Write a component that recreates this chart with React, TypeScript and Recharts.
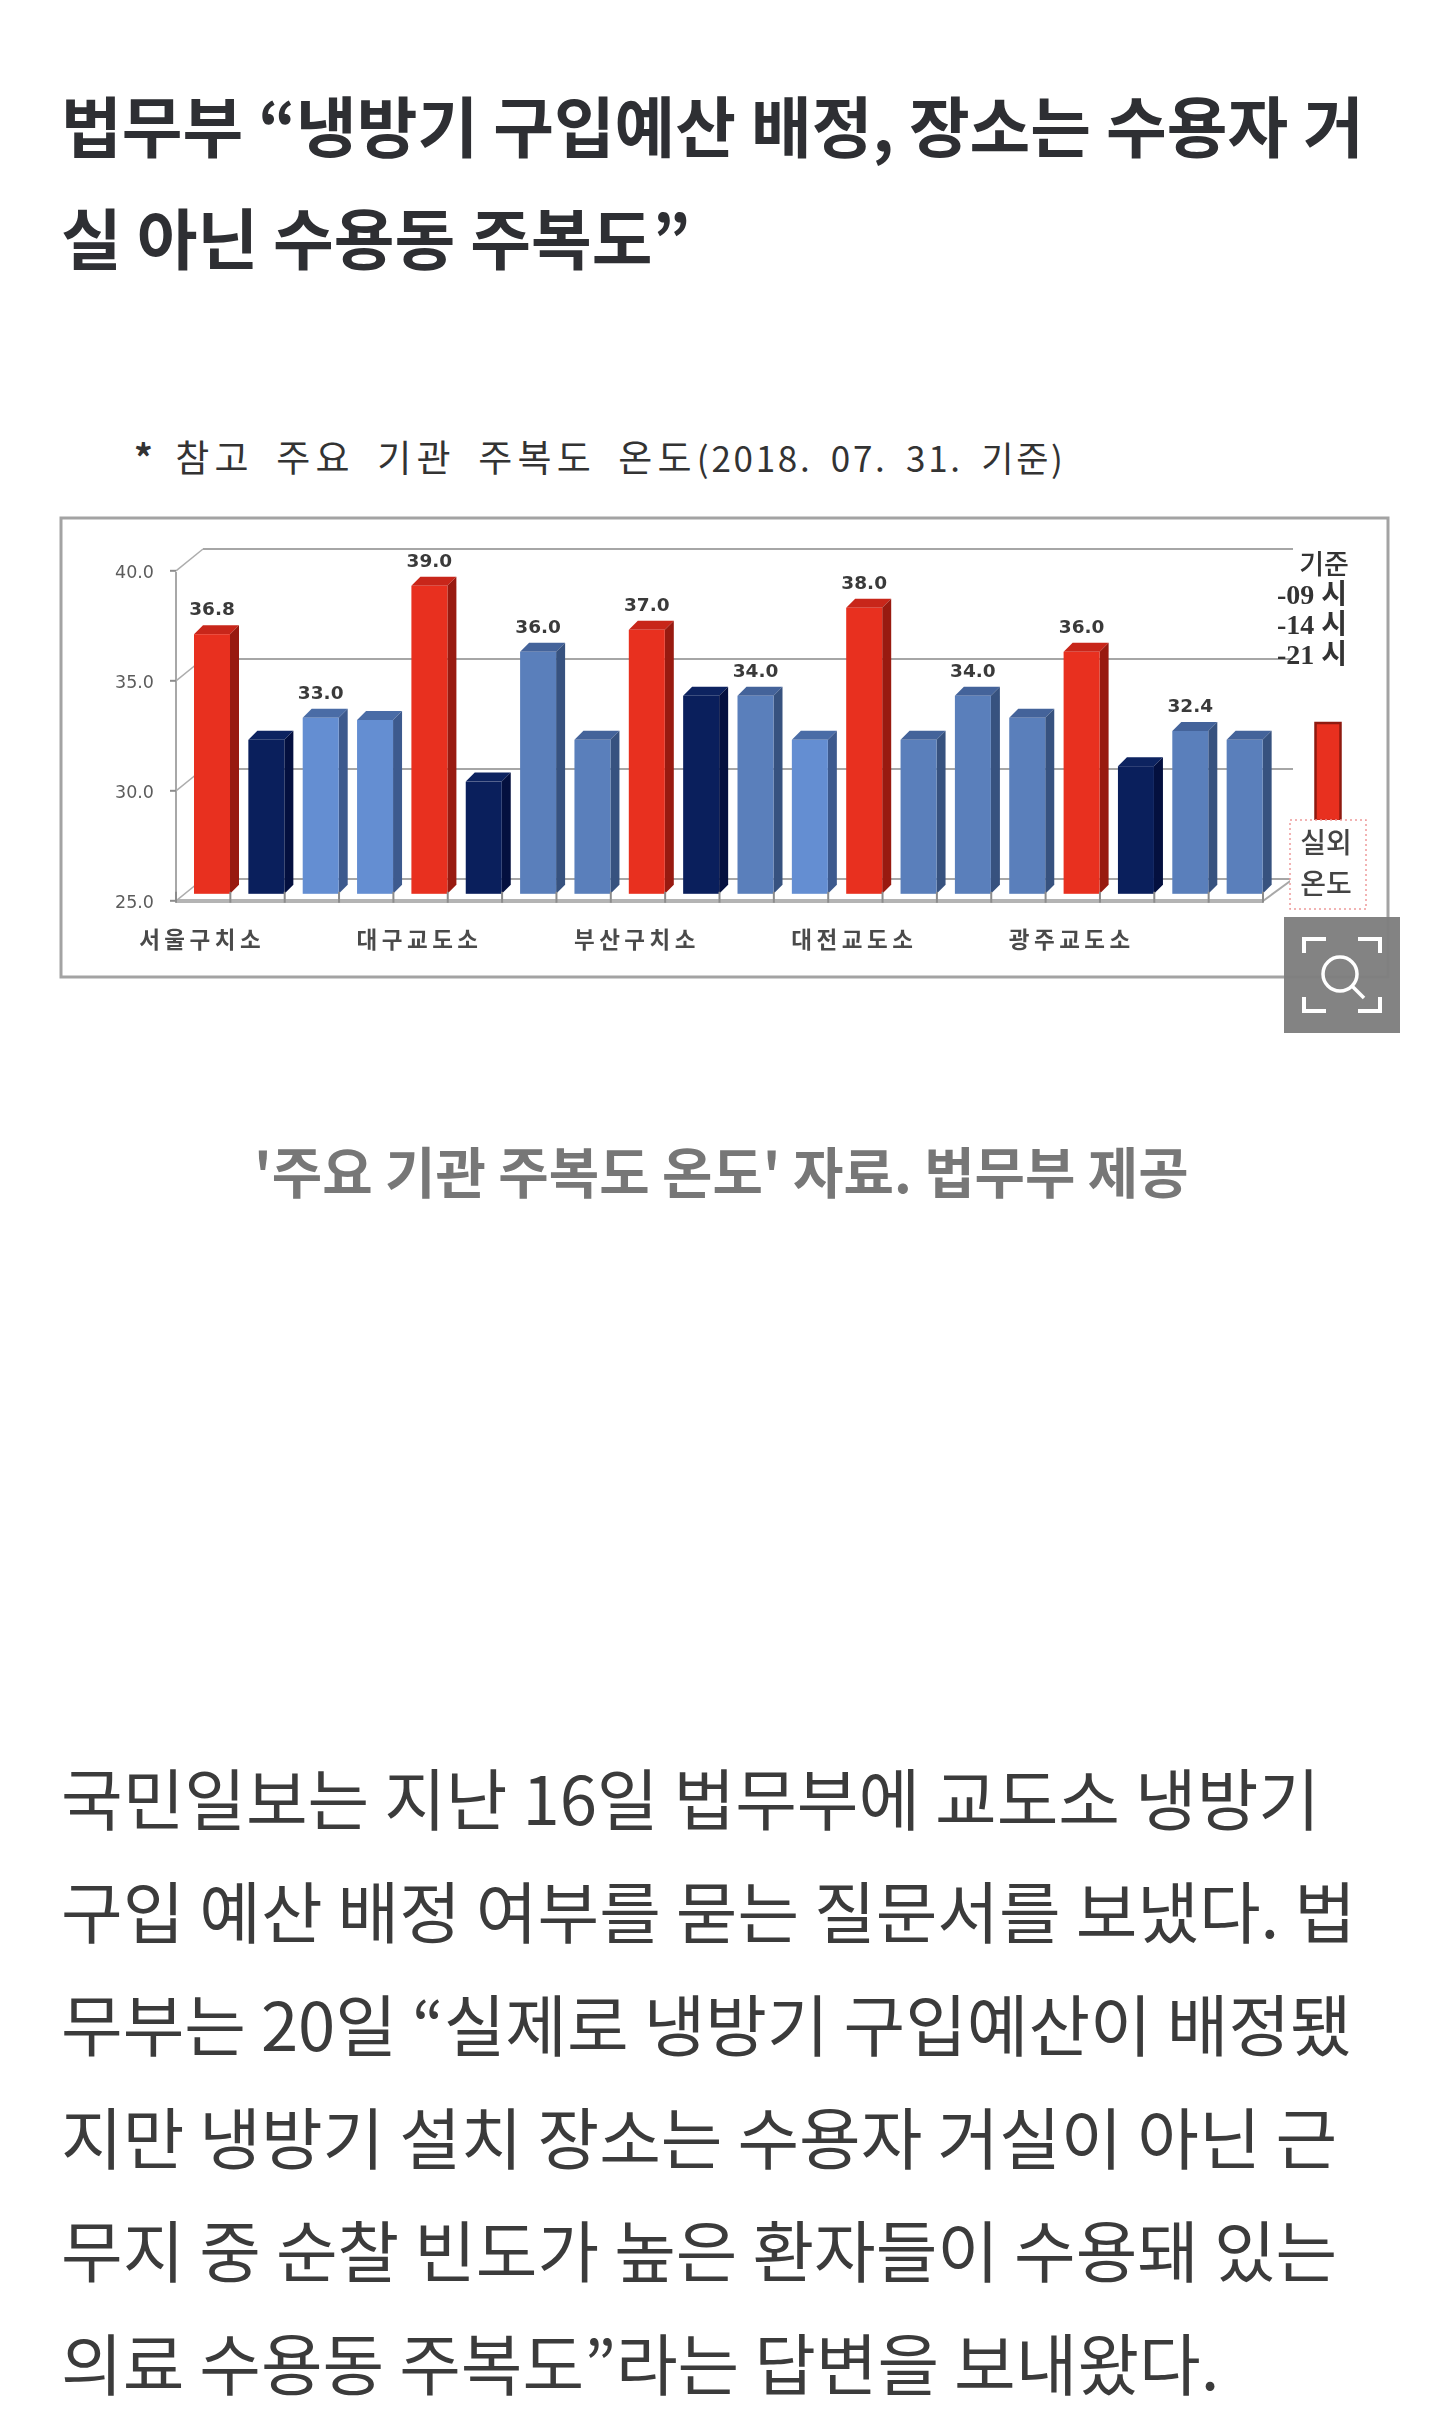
// App.tsx - 주요 기관 주복도 온도 article screenshot, bars drawn with Recharts
import React from 'react';
import { BarChart, Bar, XAxis, YAxis, CartesianGrid, LabelList } from 'recharts';

const groupNames = [
  '서울구치소', '', '', '',
  '대구교도소', '', '', '',
  '부산구치소', '', '', '',
  '대전교도소', '', '', '',
  '광주교도소', '', '', '',
];
const temps = [36.8, 32.0, 33.0, 32.9, 39.0, 30.1, 36.0, 32.0, 37.0, 34.0, 34.0, 32.0, 38.0, 32.0, 34.0, 33.0, 36.0, 30.8, 32.4, 32.0];
const shownLabels = ['36.8', '', '33.0', '', '39.0', '', '36.0', '', '37.0', '', '34.0', '', '38.0', '', '34.0', '', '36.0', '', '32.4', ''];
const tones = ['red', 'navy', 'light', 'light', 'red', 'navy', 'mid', 'mid', 'red', 'navy', 'mid', 'light', 'red', 'mid', 'mid', 'mid', 'red', 'navy', 'mid', 'mid'];
const yTicks = [25, 30, 35, 40];

const bodyLines = [
  '국민일보는 지난 16일 법무부에 교도소 냉방기',
  '구입 예산 배정 여부를 묻는 질문서를 보냈다. 법',
  '무부는 20일 “실제로 냉방기 구입예산이 배정됐',
  '지만 냉방기 설치 장소는 수용자 거실이 아닌 근',
  '무지 중 순찰 빈도가 높은 환자들이 수용돼 있는',
  '의료 수용동 주복도”라는 답변을 보내왔다.',
];

const chartData = temps.map((t, i) => ({
  name: String(i),
  group: groupNames[i],
  temp: t,
  shown: shownLabels[i],
  tone: tones[i],
}));

const FACES: Record<string, { front: string; side: string; top: string }> = {
  red: { front: '#e8301f', side: '#981a10', top: '#c8261a' },
  navy: { front: '#0a1f5c', side: '#04103f', top: '#0d2360' },
  light: { front: '#648ed2', side: '#3d5a8e', top: '#4a6ca6' },
  mid: { front: '#5a7fbb', side: '#37527f', top: '#44639a' },
};

const KR = '"Noto Sans CJK KR", sans-serif';
const DEPTH = 9;
const BAND = 54.35;
// back wall sits up and to the right of the bars' plane
const WALL_DX = 27;
const WALL_DY = -14.8;
const FRONT_DY = 7;

// fake 3d column: front, top and side faces
const Column = (props: any) => {
  const { x, y, width, height, payload } = props;
  const f = FACES[payload.tone];
  const l = x + DEPTH;
  const r = l + width;
  const b = y + height;
  return (
    <g>
      <polygon points={`${l},${y} ${l + DEPTH},${y - DEPTH} ${r + DEPTH},${y - DEPTH} ${r},${y}`} fill={f.top} />
      <polygon points={`${r},${y} ${r + DEPTH},${y - DEPTH} ${r + DEPTH},${b - DEPTH} ${r},${b}`} fill={f.side} />
      <rect x={l} y={y} width={width} height={height} fill={f.front} />
    </g>
  );
};

const ValueLabel = (props: any) => {
  const { x, y, width, value } = props;
  if (!value) return null;
  return (
    <text x={x + width / 2 + DEPTH} y={y - 19} textAnchor="middle" fontFamily="DejaVu Sans" fontWeight={700} fontSize={18.5} fill="#3a3a3a">
      {value}
    </text>
  );
};

const YTick = (props: any) => {
  const { x, y, payload } = props;
  const fy = y + FRONT_DY;
  return (
    <g>
      <line x1={x - 6} x2={x} y1={fy} y2={fy} stroke="#8c8c8c" strokeWidth={2} />
      <text x={x - 22} y={fy + 7} textAnchor="end" fontFamily="DejaVu Sans" fontSize={17.5} fill="#5c5c5c">
        {payload.value.toFixed(1)}
      </text>
    </g>
  );
};

const XTick = (props: any) => {
  const { x, y, index } = props;
  const row = chartData[index];
  const left = x - BAND / 2;
  const baseY = y - 2;
  return (
    <g>
      <line x1={left} x2={left} y1={baseY} y2={baseY + 11} stroke="#8c8c8c" strokeWidth={2} />
      {index === chartData.length - 1 && (
        <line x1={left + BAND} x2={left + BAND} y1={baseY} y2={baseY + 11} stroke="#8c8c8c" strokeWidth={2} />
      )}
      {row && row.group ? (
        <text x={x - 1} y={y + 54} textAnchor="middle" fontFamily={KR} fontWeight={700} fontSize={22.5} letterSpacing={4.5} fill="#4a4a4a">
          {row.group}
        </text>
      ) : null}
    </g>
  );
};

// grid lines live on the back wall, with a slanted piece on the side wall
const WallLine = (props: any) => {
  const { x1, x2, y1 } = props;
  const by = y1 + WALL_DY;
  return (
    <g>
      <line x1={x1 + WALL_DX} x2={x2 + WALL_DX + 3} y1={by} y2={by} stroke="#a6a6a6" strokeWidth={2} />
      <line x1={x1} x2={x1 + WALL_DX} y1={y1 + FRONT_DY} y2={by} stroke="#adadad" strokeWidth={1.5} />
    </g>
  );
};

const Frame = () => (
  <svg width={1440} height={1040} style={{ position: 'absolute', left: 0, top: 0 }}>
    <rect x={61} y={518} width={1327} height={459} fill="#fff" stroke="#a3a3a3" strokeWidth={3} />
    <line x1={176} x2={176} y1={572} y2={901} stroke="#a8a8a8" strokeWidth={2} />
    <line x1={176} x2={1263} y1={901} y2={901} stroke="#b4b4b4" strokeWidth={4} />
    <line x1={1263} x2={1293} y1={901} y2={879} stroke="#a8a8a8" strokeWidth={2} />
  </svg>
);

const Legend = () => (
  <svg width={1440} height={1040} style={{ position: 'absolute', left: 0, top: 0 }}>
    <g fontFamily='"Liberation Serif", "Noto Sans CJK KR"' fontWeight={700} fill="#333">
      <text x={1324} y={574} textAnchor="middle" fontFamily={KR} fontWeight={500} fontSize={27}>기준</text>
      <text x={1312} y={604} textAnchor="middle" fontSize={28}>-09 시</text>
      <text x={1312} y={634} textAnchor="middle" fontSize={28}>-14 시</text>
      <text x={1312} y={664} textAnchor="middle" fontSize={28}>-21 시</text>
    </g>
    <rect x={1315.5} y={723} width={25} height={98} fill="#e8301f" stroke="#8f1a10" strokeWidth={2.5} />
    <rect x={1290} y={820} width={76} height={89} fill="#fff" stroke="#ee9a9a" strokeWidth={1.5} strokeDasharray="2 3" />
    <text x={1326} y={853} textAnchor="middle" fontFamily={KR} fontWeight={500} fontSize={28} fill="#444">실외</text>
    <text x={1326} y={894} textAnchor="middle" fontFamily={KR} fontWeight={500} fontSize={28} fill="#444">온도</text>
  </svg>
);

const ZoomBadge = () => (
  <svg width={116} height={116} style={{ position: 'absolute', left: 1284, top: 917 }}>
    <rect width={116} height={116} fill="#7f7f7f" fillOpacity={0.97} />
    <g fill="none" stroke="#fff" strokeWidth={4}>
      <path d="M 20 36 V 22 H 42 M 74 22 H 96 V 36 M 96 80 V 94 H 74 M 42 94 H 20 V 80" />
      <circle cx={56} cy={57} r={17} strokeWidth={3.5} />
      <line x1={68} y1={69} x2={80} y2={81} strokeWidth={3.5} />
    </g>
  </svg>
);

const textStyle = (top: number, size: number): React.CSSProperties => ({
  position: 'absolute',
  left: 61,
  top,
  whiteSpace: 'pre',
  fontFamily: KR,
  fontSize: size,
  lineHeight: 1,
});

export default function App() {
  return (
    <div style={{ position: 'absolute', left: 0, top: 0, width: 1440, height: 2410, background: '#fff', overflow: 'hidden' }}>
      <div style={{ ...textStyle(90, 66), fontWeight: 700, color: '#2e2f33' }}>법무부 “냉방기 구입예산 배정, 장소는 수용자 거</div>
      <div style={{ ...textStyle(202, 66), fontWeight: 700, color: '#2e2f33' }}>실 아닌 수용동 주복도”</div>

      <div style={{ ...textStyle(438, 37), left: 134, color: '#333', fontWeight: 400, letterSpacing: 5.2, wordSpacing: 9 }}>
        <span style={{ fontWeight: 700, letterSpacing: 0 }}>*</span>
        {' 참고 주요 기관 주복도 온도'}
        <span style={{ fontSize: 35, letterSpacing: 2.7, wordSpacing: 8 }}>(2018. 07. 31. 기준)</span>
      </div>

      <div style={{ position: 'absolute', left: 0, top: 0, filter: 'blur(0.7px)' }}>
        <Frame />
        <BarChart
          width={1440}
          height={1000}
          data={chartData}
          margin={{ top: 563.8, right: 177, bottom: 0, left: 116 }}
          barSize={36}
          style={{ position: 'absolute', left: 0, top: 0 }}
        >
          <CartesianGrid vertical={false} horizontal={(p: any) => <WallLine key={p.key ?? p.y1} {...p} />} />
          <XAxis dataKey="name" interval={0} height={106.2} axisLine={false} tickLine={false} tickSize={0} tickMargin={0} tick={<XTick />} />
          <YAxis domain={[25, 40]} ticks={yTicks} width={60} axisLine={false} tickLine={false} tickSize={0} tickMargin={0} tick={<YTick />} />
          <Bar dataKey="temp" shape={<Column />} isAnimationActive={false}>
            <LabelList dataKey="shown" content={<ValueLabel />} />
          </Bar>
        </BarChart>
        <Legend />
      </div>

      <ZoomBadge />

      <div style={{ ...textStyle(1142, 54.8), left: 254, fontWeight: 700, color: '#777' }}>'주요 기관 주복도 온도' 자료. 법무부 제공</div>

      {bodyLines.map((line, i) => (
        <div key={i} style={{ ...textStyle(1762 + i * 113, 67), color: '#3b3b3b' }}>{line}</div>
      ))}
    </div>
  );
}
